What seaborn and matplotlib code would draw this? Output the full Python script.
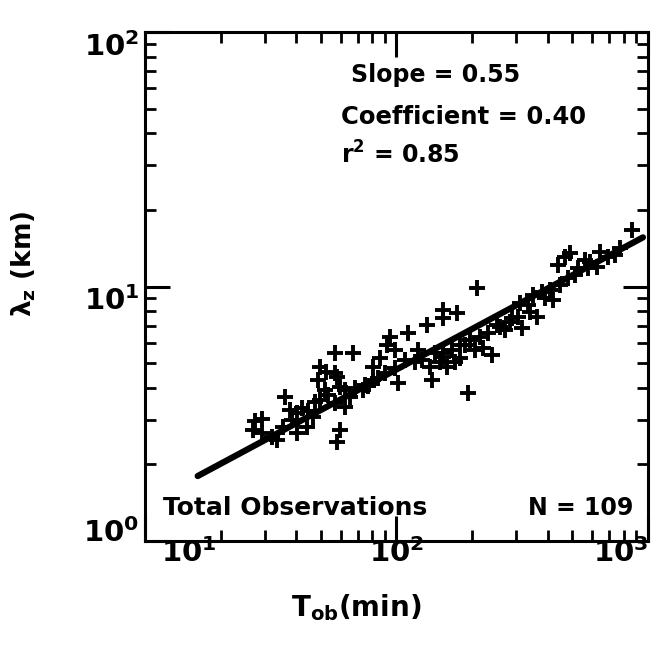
import numpy as np
import pandas as pd
import matplotlib
matplotlib.use("Agg")
import matplotlib.pyplot as plt
import matplotlib.transforms as mtransforms
import seaborn as sns
from matplotlib.ticker import LogLocator, NullFormatter

# Observation period T_ob (min) and vertical wavelength lambda_z (km)
t_ob = [26.9, 29.2, 33.5, 36.0, 35.4, 38.4, 40.2, 42.1, 32.0, 27.4, 44.5, 40.2,
        44.1, 46.6, 47.4, 49.6, 52.0, 56.9, 56.9, 59.6, 62.4, 58.0, 59.6, 56.9, 58.0, 48.7, 52.4,
        67.1, 65.3, 73.6, 80.6, 80.6, 86.0, 91.7, 94.2, 101.4, 68.4, 74.9, 90.0, 98.6,
        108.1, 111.1, 121.8, 132.2, 135.9, 138.4, 153.1, 153.1, 153.1, 174.1, 142.3, 158.8, 153.1,
        209.0, 166.2, 205.2, 220.8, 239.8, 214.8, 231.1, 251.0, 282.7, 192.4, 257.9, 304.2, 309.8,
        178.8, 196.0, 178.8, 170.9, 148.9,
        339.5, 362.0, 389.6, 378.9, 407.8, 419.2, 446.8, 480.9, 526.9, 467.7, 438.7, 489.7,
        561.6, 626.9, 644.3, 693.4, 863.9, 348.9, 588.0, 774.0, 314.6,
        37.7, 49.6, 53.4, 62.4, 77.0, 84.4, 118.5, 126.3, 187.3, 270.0, 287.9, 333.3,
        512.5, 577.3, 739.2, 98.6, 29.2]
lambda_z = [2.73, 3.02, 2.49, 3.68, 2.80, 2.99, 2.66, 3.33, 2.56, 2.96, 3.24, 3.18,
            2.80, 3.07, 3.52, 4.83, 3.92, 5.48, 4.57, 4.03, 3.36, 2.45, 2.73, 3.48, 4.41, 4.29, 4.61,
            5.48, 3.68, 3.92, 4.29, 4.83, 5.24, 5.89, 6.33, 4.18, 3.99, 4.10, 4.57, 4.78,
            5.14, 6.57, 5.63, 7.06, 4.83, 4.29, 8.08, 7.52, 5.48, 7.87, 5.48, 4.83, 5.28,
            9.87, 5.63, 5.63, 5.73, 5.38, 6.33, 6.57, 7.06, 7.25, 3.82, 6.93, 7.59, 8.61,
            5.89, 6.16, 5.24, 5.05, 5.05,
            7.94, 7.59, 9.01, 9.51, 9.69, 8.85, 10.1, 10.8, 11.8, 13.1, 12.1, 13.5,
            12.7, 11.9, 13.7, 13.1, 16.7, 9.26, 12.5, 14.2, 6.85,
            3.27, 3.58, 3.75, 3.92, 4.06, 4.37, 5.05, 5.14, 5.89, 6.75, 7.52, 8.46,
            11.1, 11.8, 13.3, 5.63, 2.66]

# Regression line end points
fit_t = [16.2, 955.0]
fit_lambda = [1.80, 15.6]

x_ticks = [10, 100, 1000]
y_ticks = [1, 10, 100]
x_tick_labels = [r"$10^1$", r"$10^2$", r"$10^3$"]
y_tick_labels = [r"$10^0$", r"$10^1$", r"$10^2$"]

sns.set_style("ticks")
plt.rcParams['font.family'] = ['DejaVu Sans']
plt.rcParams['font.weight'] = 'bold'
plt.rcParams['mathtext.default'] = 'bf'
plt.rcParams['text.color'] = 'black'
plt.rcParams['axes.labelcolor'] = 'black'
plt.rcParams['xtick.color'] = 'black'
plt.rcParams['ytick.color'] = 'black'

fig = plt.figure(figsize=(6.57, 6.48), dpi=100)
ax = fig.add_axes([0.2207, 0.1651, 0.7656, 0.7855])

df = pd.DataFrame({"T": t_ob, "L": lambda_z})
fit = pd.DataFrame({"T": fit_t, "L": fit_lambda})

sns.lineplot(data=fit, x="T", y="L", color="black", linewidth=4.5, ax=ax)
sns.scatterplot(data=df, x="T", y="L", marker="+", s=130, color="black",
                linewidth=2.8, ax=ax, zorder=3)

ax.set_xscale("log")
ax.set_yscale("log")
ax.set_xlim(10, 1000)
ax.set_ylim(1, 100)

for sp in ax.spines.values():
    sp.set_linewidth(2.2)
    sp.set_color("black")

ax.xaxis.set_minor_locator(LogLocator(base=10, subs=np.arange(2, 10)))
ax.yaxis.set_minor_locator(LogLocator(base=10, subs=np.arange(2, 10)))
ax.xaxis.set_minor_formatter(NullFormatter())
ax.yaxis.set_minor_formatter(NullFormatter())

ax.tick_params(which="major", direction="in", length=18, width=2.2,
               top=True, right=True, labelsize=21)
ax.tick_params(axis="x", which="major", pad=-2)
ax.tick_params(axis="y", which="major", pad=4)
ax.tick_params(which="minor", direction="in", length=8, width=2.0,
               top=True, right=True)

ax.set_xticks(x_ticks)
ax.set_yticks(y_ticks)
ax.set_xticklabels(x_tick_labels, fontsize=21)
ax.set_yticklabels(y_tick_labels, fontsize=21)
xl = ax.get_xticklabels()
xl[0].set_horizontalalignment("left")
xl[0].set_transform(xl[0].get_transform() +
                    mtransforms.ScaledTranslation(0.16, 0, fig.dpi_scale_trans))
xl[1].set_horizontalalignment("center")
xl[2].set_horizontalalignment("right")
yl = ax.get_yticklabels()
yl[0].set_verticalalignment("center")
yl[0].set_transform(yl[0].get_transform() +
                    mtransforms.ScaledTranslation(0, 0.08, fig.dpi_scale_trans))
yl[1].set_verticalalignment("top")
yl[2].set_verticalalignment("top")

ax.set_xlabel(r"T$_{ob}$(min)", fontsize=20, fontweight="bold", va="top")
ax.xaxis.set_label_coords(0.42, -0.100)
ax.set_ylabel(r"λ$_z$ (km)", fontsize=19, fontweight="bold")
ax.yaxis.set_label_coords(-0.213, 0.544)

ax.text(0.41, 0.915, "Slope = 0.55", transform=ax.transAxes, fontsize=17,
        fontweight="bold", va="center")
ax.text(0.39, 0.833, "Coefficient = 0.40", transform=ax.transAxes, fontsize=17.5,
        fontweight="bold", va="center")
ax.text(0.39, 0.758, r"r$^2$ = 0.85", transform=ax.transAxes, fontsize=17,
        fontweight="bold", va="center")
ax.text(0.035, 0.065, "Total Observations", transform=ax.transAxes, fontsize=18,
        fontweight="bold", va="center")
ax.text(0.97, 0.065, "N = 109", transform=ax.transAxes, fontsize=17,
        fontweight="bold", va="center", ha="right")

fig.savefig("out.png", dpi=100)
